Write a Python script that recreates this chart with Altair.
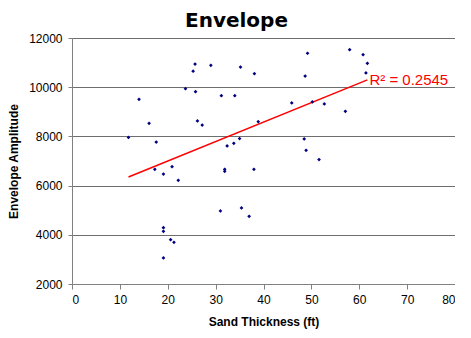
import altair as alt
import pandas as pd

thickness = [11.8, 14.0, 16.1, 17.6, 17.3, 19.1, 20.9, 22.2, 19.1, 19.1, 20.6, 21.3, 19.1,
             23.7, 25.3, 25.7, 25.8, 26.2, 27.2, 29.0, 31.2, 31.0, 31.9, 31.9, 32.4, 33.8,
             34.0, 35.0, 35.2, 35.4, 37.0, 38.1, 38.0, 38.9, 45.9, 48.7, 49.2, 48.5, 48.9,
             50.2, 51.6, 52.7, 57.1, 58.0, 60.8, 61.7, 61.4]
amplitude = [7960, 9510, 8530, 7770, 6660, 6470, 6770, 6215, 4290, 4140, 3800, 3695, 3060,
             9940, 10650, 10940, 9820, 8630, 8460, 10890, 9655, 4970, 6660, 6580, 7610, 7720,
             9655, 7910, 10820, 5090, 4750, 10550, 6660, 8600, 9360, 10455, 11380, 7895, 7435,
             9400, 7060, 9320, 9020, 11525, 11320, 10970, 10580]
r2_label = "R\u00b2 = 0.2545"

df = pd.DataFrame({"x": thickness, "y": amplitude})

FONT = "Liberation Sans"
xscale = alt.Scale(domain=[0, 80], nice=False, zero=False)
yscale = alt.Scale(domain=[2000, 12000], nice=False, zero=False)

base = alt.Chart(df)

points = base.mark_point(shape="diamond", filled=True, size=14, color="#000080", opacity=1).encode(
    x=alt.X("x:Q", scale=xscale,
            axis=alt.Axis(title="Sand Thickness (ft)", values=list(range(0, 81, 10)), grid=False,
                          tickSize=5, tickColor="#808080", domainColor="#808080",
                          labelFont=FONT, labelFontSize=12, labelColor="black", labelPadding=5,
                          titleFont=FONT, titleFontSize=12, titleFontWeight="bold",
                          titleColor="black", titlePadding=11)),
    y=alt.Y("y:Q", scale=yscale,
            axis=alt.Axis(title="Envelope Amplitude", values=list(range(2000, 12001, 2000)),
                          format="d", grid=True, gridColor="#6e6e6e", gridOpacity=1,
                          tickSize=4, tickColor="#808080", domainColor="#808080",
                          labelFont=FONT, labelFontSize=12, labelColor="black", labelPadding=6,
                          titleFont=FONT, titleFontSize=12, titleFontWeight="bold",
                          titleColor="black", titlePadding=8)),
)

trend = base.transform_regression("x", "y").mark_line(color="#ff0000", strokeWidth=1.5).encode(
    x=alt.X("x:Q", scale=xscale), y=alt.Y("y:Q", scale=yscale))

label = base.transform_regression("x", "y").transform_window(
    rank="rank()", sort=[alt.SortField("x", order="descending")]
).transform_filter("datum.rank == 1").mark_text(
    align="left", baseline="middle", dx=2, dy=0, font=FONT, fontSize=15, color="#ff0000"
).encode(x=alt.X("x:Q", scale=xscale), y=alt.Y("y:Q", scale=yscale), text=alt.value(r2_label))

chart = alt.layer(trend, points, label).properties(
    width=383, height=246,
    title=alt.TitleParams("Envelope", font="DejaVu Sans", fontSize=20, fontWeight="bold",
                          color="black", anchor="middle", dx=-27, offset=1),
    autosize=alt.AutoSizeParams(type="none"),
    padding={"left": 64, "top": 30, "right": 0, "bottom": 52},
).configure_view(fill="#cccccc", stroke="#808080", strokeWidth=1.5).configure(background="white")

chart.save("out.html", embed_options={"renderer": "svg", "actions": False})
